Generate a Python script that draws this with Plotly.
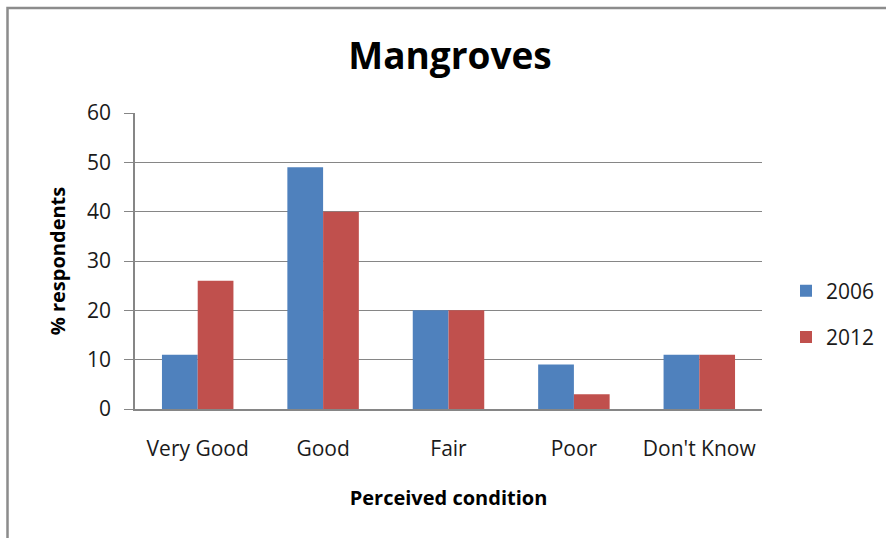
import plotly.graph_objects as go

categories = ["Very Good", "Good", "Fair", "Poor", "Don't Know"]
values_2006 = [11, 49, 20, 9, 11]
values_2012 = [26, 40, 20, 3, 11]
y_ticks = [0, 10, 20, 30, 40, 50, 60]

FONT = "Open Sans"
W, H = 886, 538
L, R, T, B = 135, 124, 113, 129
pw, ph = W - L - R, H - T - B

def px_x(x):
    return (x - L) / pw

def px_y(y):
    return (H - B - y) / ph

fig = go.Figure()
fig.add_trace(go.Bar(name="2006", x=categories, y=values_2006, legendgroup="a",
                     marker=dict(color="#4F81BD", line=dict(width=0))))
fig.add_trace(go.Bar(name="2012", x=categories, y=values_2012, legendgroup="b",
                     marker=dict(color="#C0504D", line=dict(width=0))))

fig.update_layout(
    width=W, height=H,
    margin=dict(l=L, r=R, t=T, b=B, autoexpand=False),
    paper_bgcolor="white", plot_bgcolor="white",
    barmode="group", bargap=0.43, bargroupgap=0,
    font=dict(family=FONT, color="#1a1a1a"),
    title=dict(text="<b>Mangroves</b>", x=450 / W, xanchor="center", y=1 - 56 / H, yanchor="middle",
               font=dict(size=37, family=FONT, color="black")),
    xaxis=dict(showgrid=False, showline=True, linecolor="#868686", linewidth=1.5, ticks="",
               tickfont=dict(size=21, family=FONT, color="#1a1a1a"), ticklabelstandoff=20,
               automargin=False,
               title=dict(text="<b>Perceived condition</b>", font=dict(size=20, family=FONT, color="black"),
                          standoff=30)),
    yaxis=dict(range=[0, 60], tickvals=y_ticks, showgrid=True, gridcolor="#868686", gridwidth=1,
               showline=True, linecolor="#868686", linewidth=1.5, ticks="outside", ticklen=9,
               tickcolor="#868686", tickfont=dict(size=21, family=FONT, color="#1a1a1a"), zeroline=False,
               ticklabelstandoff=9, automargin=False,
               title=dict(text="<b>% respondents</b>", font=dict(size=20, family=FONT, color="black"),
                          standoff=16)),
    legend=dict(x=px_x(786), y=px_y(314), xanchor="left", yanchor="middle",
                font=dict(size=21, family=FONT, color="#1a1a1a"), tracegroupgap=16,
                itemsizing="constant", itemwidth=30, bgcolor="rgba(0,0,0,0)"),
    showlegend=True,
    shapes=[dict(type="rect", xref="paper", yref="paper",
                 x0=px_x(7.5), x1=px_x(900), y0=px_y(560), y1=px_y(8),
                 line=dict(color="#8c8c8c", width=2.5), fillcolor="rgba(0,0,0,0)", layer="below")],
)

fig.write_html("out.html", config={"displayModeBar": False},
               post_script="document.body.style.margin='0';")
